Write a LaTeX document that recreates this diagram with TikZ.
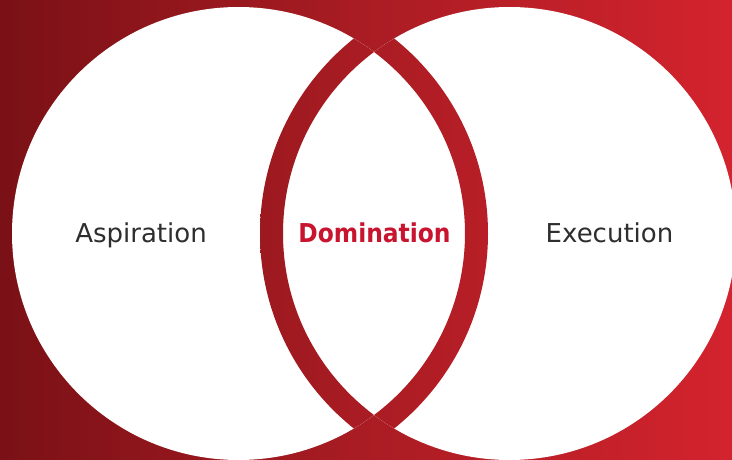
\documentclass[tikz,border=0pt]{standalone}
\usepackage{fontspec}
\setmainfont{DejaVu Sans}
\newfontfamily\condfont{DejaVu Sans Condensed}
\usepackage{xcolor}
\usepackage{tikz}
\usetikzlibrary{calc}
\definecolor{bgdark}{HTML}{7A1116}
\definecolor{bgmid}{HTML}{AA1C23}
\definecolor{bglite}{HTML}{D3232E}
\definecolor{ink}{HTML}{2E2E2E}
\definecolor{hot}{HTML}{C8142E}
\tikzset{
  bgfill/.style={left color=bgdark, right color=bglite, middle color=bgmid},
  disc/.style={fill=white, draw=none},
  lab/.style={text=ink, font=\fontsize{26}{30}\selectfont, anchor=base, inner sep=0pt},
  labhot/.style={text=hot, font=\condfont\bfseries\fontsize{26}{30}\selectfont, anchor=base, inner sep=0pt},
}

\begin{document}
\begin{tikzpicture}[x=1pt, y=1pt]
  \useasboundingbox (0,0) rectangle (732,459);
  \clip (0,0) rectangle (732,459);
  \coordinate (L) at (238.5,225.5);
  \coordinate (R) at (509.5,225.5);
  \shade[bgfill] (0,0) rectangle (732,459);
  % two discs
  \fill[disc] (L) circle (226.5);
  \fill[disc] (R) circle (226.5);
  % red rings inside the overlap
  \begin{scope}[even odd rule]
    \clip (L) circle (226.5);
    \clip (R) circle (249.5) (R) circle (226.5);
    \shade[bgfill] (0,0) rectangle (732,459);
  \end{scope}
  \begin{scope}[even odd rule]
    \clip (R) circle (226.5);
    \clip (L) circle (249.5) (L) circle (226.5);
    \shade[bgfill] (0,0) rectangle (732,459);
  \end{scope}
  \node[lab] (asp) at (141,217) {Aspiration};
  \node[labhot] (dom) at (374.5,217) {Domination};
  \node[lab] (exe) at (609.5,217) {Execution};
\end{tikzpicture}
\end{document}
